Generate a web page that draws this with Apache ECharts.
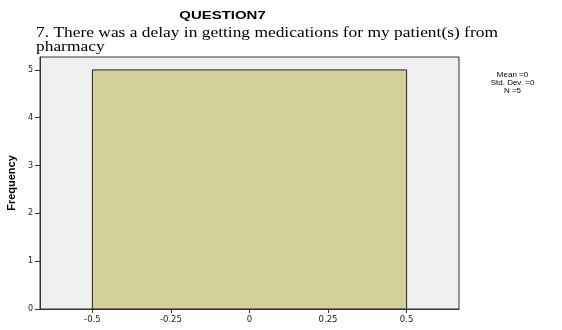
<!DOCTYPE html>
<html><head><meta charset="utf-8">
<script src="https://cdn.jsdelivr.net/npm/echarts@6/dist/echarts.min.js"></script>
<style>html,body{margin:0;padding:0;background:#fff}#c{width:562px;height:330px}</style>
</head><body><div id="c"></div>
<script>
const titleText = "QUESTION7";
const subtitleLines = ["7. There was a delay in getting medications for my patient(s) from", "pharmacy"];
const binStarts = [-0.5];
const binEnds = [0.5];
const frequencies = [5];
const xTicks = [-0.5, -0.25, 0, 0.25, 0.5];
const xTickLabels = ["-0.5", "-0.25", "0", "0.25", "0.5"];
const yTicks = [0, 1, 2, 3, 4, 5];
const statsLines = ["Mean =0", "Std. Dev. =0", "N =5"];

const data = binStarts.map((s, i) => [s, binEnds[i], frequencies[i]]);
const chart = echarts.init(document.getElementById('c'), null, {renderer: 'canvas'});
const serif = 'Liberation Serif, Times New Roman, serif';
const sans = 'Liberation Sans, Arial, sans-serif';
chart.setOption({
  animation: false,
  backgroundColor: '#ffffff',
  graphic: [
    {type: 'text', x: 222.5, y: 15.5, scaleX: 1.3, style: {text: titleText, fontFamily: sans, fontWeight: 'bold', fontSize: 11.5, fill: '#000', align: 'center', verticalAlign: 'middle'}},
    {type: 'text', x: 36, y: 33.5, scaleX: 1.16, style: {text: subtitleLines[0], fontFamily: serif, fontSize: 15, fill: '#000', align: 'left', verticalAlign: 'middle'}},
    {type: 'text', x: 36, y: 47.5, scaleX: 1.16, style: {text: subtitleLines[1], fontFamily: serif, fontSize: 15, fill: '#000', align: 'left', verticalAlign: 'middle'}},
    {type: 'text', x: 512.5, y: 75, style: {text: statsLines[0], fontFamily: sans, fontSize: 8, fill: '#000', align: 'center', verticalAlign: 'middle'}},
    {type: 'text', x: 512.5, y: 83, style: {text: statsLines[1], fontFamily: sans, fontSize: 8, fill: '#000', align: 'center', verticalAlign: 'middle'}},
    {type: 'text', x: 512.5, y: 91, style: {text: statsLines[2], fontFamily: sans, fontSize: 8, fill: '#000', align: 'center', verticalAlign: 'middle'}}
  ],
  grid: {left: 40, right: 103, top: 57, bottom: 21, outerBoundsMode: 'none', containLabel: false, show: true, backgroundColor: '#f0f0f0', borderColor: '#333', borderWidth: 1},
  xAxis: {
    type: 'value', min: -0.6667, max: 0.6667,
    axisLine: {show: true, onZero: false, lineStyle: {color: '#333'}},
    splitLine: {show: false},
    axisTick: {show: true, length: 4, customValues: xTicks, lineStyle: {color: '#333'}},
    axisLabel: {customValues: xTicks, formatter: (v) => { const i = xTicks.findIndex(t => Math.abs(t - v) < 1e-6); return i >= 0 ? xTickLabels[i] : ''; },
      fontFamily: 'DejaVu Sans, sans-serif', fontSize: 8.5, color: '#222', margin: 6}
  },
  yAxis: {
    type: 'value', min: 0, max: 5.27,
    name: 'Frequency', nameLocation: 'middle', nameGap: 23, nameRotate: 90,
    nameTextStyle: {fontFamily: sans, fontWeight: 'bold', fontSize: 11, color: '#000'},
    axisLine: {show: true, onZero: false, lineStyle: {color: '#333'}},
    splitLine: {show: false},
    axisTick: {show: true, length: 5, customValues: yTicks, lineStyle: {color: '#333'}},
    axisLabel: {customValues: yTicks, fontFamily: 'DejaVu Sans, sans-serif', fontSize: 8, color: '#222', margin: 7}
  },
  series: [{
    type: 'custom',
    data: data,
    encode: {x: [0, 1], y: 2},
    renderItem: function (params, api) {
      const p0 = api.coord([api.value(0), api.value(2)]);
      const p1 = api.coord([api.value(1), 0]);
      return {
        type: 'rect',
        shape: {x: p0[0], y: p0[1], width: p1[0] - p0[0], height: p1[1] - p0[1]},
        style: {fill: '#d3cf98', stroke: '#222', lineWidth: 1}
      };
    }
  }]
});
</script></body></html>
